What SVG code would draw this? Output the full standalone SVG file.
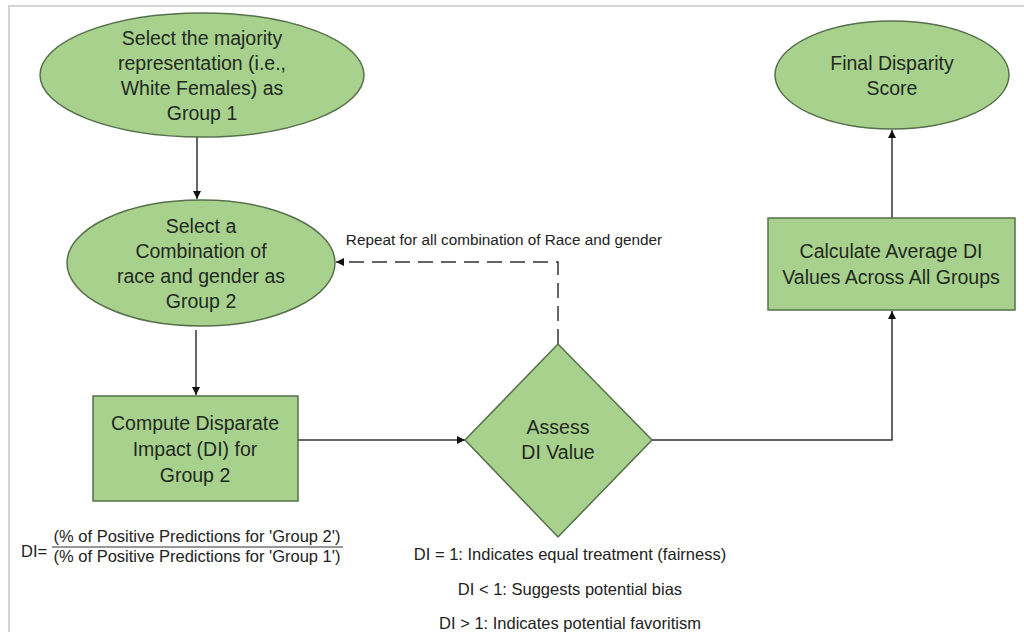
<svg xmlns="http://www.w3.org/2000/svg" width="1024" height="632" viewBox="0 0 1024 632">
<style>
.node{fill:#a9d18e;stroke:#55704a;stroke-width:1.5}
.t{font-family:"Liberation Sans",Arial,sans-serif;font-size:19.5px;fill:#1e2a1e;text-anchor:middle}
.s{font-family:"Liberation Sans",Arial,sans-serif;font-size:16.5px;fill:#222;text-anchor:middle}
.r{font-family:"Liberation Sans",Arial,sans-serif;font-size:15.3px;fill:#222;text-anchor:middle}
.ln{fill:none;stroke:#333;stroke-width:1.5}
</style>
<defs>
<marker id="ah" markerWidth="10" markerHeight="10" refX="9" refY="5" orient="auto" markerUnits="userSpaceOnUse">
<path d="M1,1 L9,5 L1,9 Z" fill="#111"/>
</marker>
</defs>
<rect width="1024" height="632" fill="#fff"/>
<path d="M9,632 V6 H1024" fill="none" stroke="#d4d4d4" stroke-width="2"/>
<g id="connectors">
<path class="ln" d="M197,137 V199" marker-end="url(#ah)"/>
<path class="ln" d="M196,330 V395" marker-end="url(#ah)"/>
<path class="ln" d="M298,440 H465" marker-end="url(#ah)"/>
<path class="ln" d="M558,344 V262 H336" stroke-dasharray="15,8" stroke-width="2" marker-end="url(#ah)"/>
<path class="ln" d="M652,440 H892 V311" marker-end="url(#ah)"/>
<path class="ln" d="M892,218 V130" marker-end="url(#ah)"/>
</g>
<g id="n1">
<ellipse class="node" cx="202" cy="75" rx="162" ry="62"/>
<text class="t" x="202" y="45">Select the majority</text>
<text class="t" x="202" y="70">representation (i.e.,</text>
<text class="t" x="202" y="95">White Females) as</text>
<text class="t" x="202" y="120">Group 1</text>
</g>
<g id="n2">
<ellipse class="node" cx="201" cy="263" rx="134" ry="63"/>
<text class="t" x="201" y="233">Select a</text>
<text class="t" x="201" y="258">Combination of</text>
<text class="t" x="201" y="283">race and gender as</text>
<text class="t" x="201" y="308">Group 2</text>
</g>
<g id="n3">
<rect class="node" x="93" y="396" width="205" height="105"/>
<text class="t" x="195" y="430">Compute Disparate</text>
<text class="t" x="195" y="456">Impact (DI) for</text>
<text class="t" x="195" y="482">Group 2</text>
</g>
<g id="formula">
<text class="s" x="21" y="557" style="text-anchor:start">DI=</text>
<text class="s" x="197" y="542">(% of Positive Predictions for 'Group 2')</text>
<line x1="52" y1="547" x2="343" y2="547" stroke="#333" stroke-width="1"/>
<text class="s" x="197" y="562">(% of Positive Predictions for 'Group 1')</text>
</g>
<g id="n4">
<polygon class="node" points="558,344 652,440 558,537 465,440"/>
<text class="t" x="558" y="434">Assess</text>
<text class="t" x="558" y="459">DI Value</text>
</g>
<g id="label-repeat">
<text class="r" x="504" y="245">Repeat for all combination of Race and gender</text>
</g>
<g id="notes">
<text class="s" x="570" y="560">DI = 1: Indicates equal treatment (fairness)</text>
<text class="s" x="570" y="595">DI &lt; 1: Suggests potential bias</text>
<text class="s" x="570" y="629">DI &gt; 1: Indicates potential favoritism</text>
</g>
<g id="n5">
<rect class="node" x="768" y="218" width="247" height="92"/>
<text class="t" x="891" y="258">Calculate Average DI</text>
<text class="t" x="891" y="284">Values Across All Groups</text>
</g>
<g id="n6">
<ellipse class="node" cx="892" cy="75" rx="117" ry="54"/>
<text class="t" x="892" y="70">Final Disparity</text>
<text class="t" x="892" y="95">Score</text>
</g>
</svg>
